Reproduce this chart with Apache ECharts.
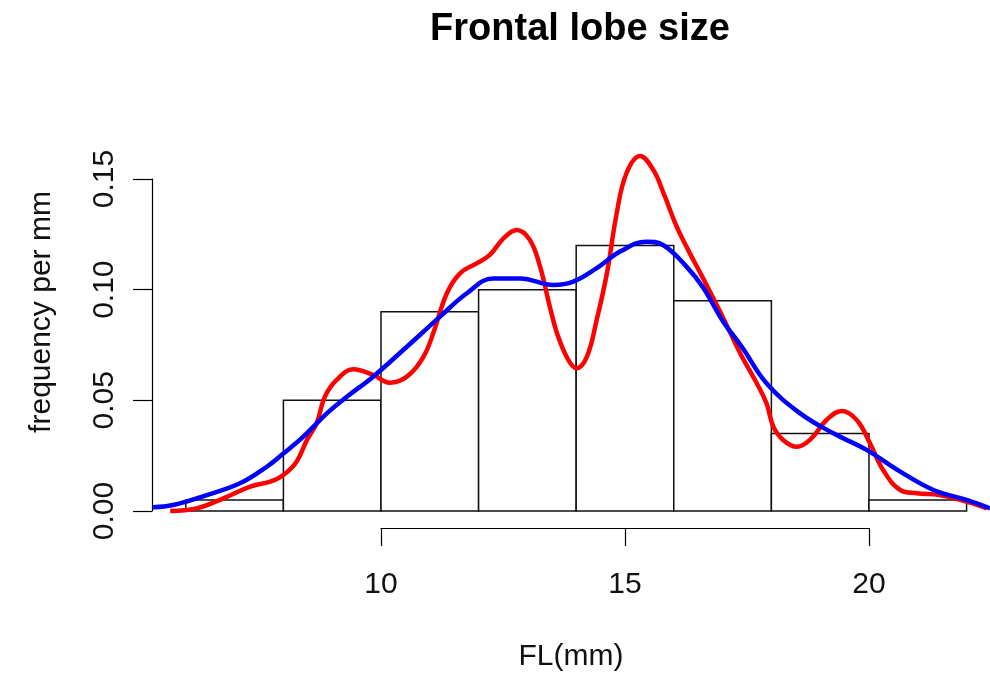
<!DOCTYPE html>
<html>
<head>
<meta charset="utf-8">
<script src="https://cdn.jsdelivr.net/npm/echarts@6/dist/echarts.min.js"></script>
<style>
  html, body { margin: 0; padding: 0; background: #ffffff; }
  #chart { width: 990px; height: 677px; }
</style>
</head>
<body>
<div id="chart"></div>
<script>
// Histogram of frontal lobe size: bin edges (mm) and density per mm
const binEdges = [6, 8, 10, 12, 14, 16, 18, 20, 22];
const binDensity = [0.005, 0.05, 0.09, 0.10, 0.12, 0.095, 0.035, 0.005];

// Kernel density estimate, narrow bandwidth (red)
const redX = [5.68, 6.22, 6.77, 7.32, 7.73, 8.0, 8.27, 8.48, 8.68, 8.85, 9.09, 9.43, 9.84,
  10.18, 10.53, 10.87, 11.07, 11.35, 11.62, 11.96, 12.23, 12.51, 12.78, 13.05, 13.26, 13.46,
  13.63, 13.84, 14.01, 14.22, 14.42, 14.63, 14.83, 15.03, 15.31, 15.58, 15.79, 16.06, 16.33,
  16.58, 17.0, 17.36, 17.7, 17.9, 18.04, 18.24, 18.52, 18.79, 19.13, 19.44, 19.75, 20.02,
  20.29, 20.64, 20.98, 21.45, 22.0, 22.41];
const redY = [0.0, 0.0012, 0.0057, 0.011, 0.0133, 0.0163, 0.0223, 0.032, 0.0396, 0.0516, 0.0592,
  0.064, 0.0615, 0.058, 0.0607, 0.0697, 0.0803, 0.0984, 0.1074, 0.1119, 0.1157, 0.1232, 0.127,
  0.1225, 0.1104, 0.0923, 0.0788, 0.0682, 0.0645, 0.0697, 0.0863, 0.1074, 0.1345, 0.1526,
  0.1604, 0.1541, 0.1436, 0.1285, 0.1164, 0.106, 0.0878, 0.0713, 0.0577, 0.0487, 0.0381,
  0.0321, 0.029, 0.0321, 0.0411, 0.0452, 0.0411, 0.0306, 0.0185, 0.0095, 0.008, 0.0072,
  0.0042, 0.0012];

// Kernel density estimate, wide bandwidth (blue)
const blueX = [5.33, 5.74, 6.43, 7.11, 7.66, 8.0, 8.41, 8.89, 9.3, 9.84, 10.53, 11.21, 11.76,
  12.3, 12.85, 13.53, 13.94, 14.42, 14.9, 15.44, 15.78, 16.26, 16.6, 17.0, 17.4, 17.9, 18.59,
  19.27, 19.95, 20.64, 21.32, 22.0, 22.48];
const blueY = [0.0017, 0.0027, 0.0072, 0.0125, 0.02, 0.026, 0.0336, 0.0441, 0.0516, 0.0607,
  0.0742, 0.0878, 0.0984, 0.1051, 0.1051, 0.1021, 0.1036, 0.1097, 0.1172, 0.1217, 0.1202,
  0.1104, 0.1010, 0.0860, 0.0740, 0.0577, 0.0441, 0.0351, 0.0276, 0.0178, 0.0095, 0.005, 0.0012];

// Axis ticks
const xTicks = [10, 15, 20];
const yTicks = [0, 0.05, 0.10, 0.15];

const FONT = '"Liberation Sans", Arial, Helvetica, sans-serif';
const TEXT_COLOR = '#111111';

const histData = binDensity.map((d, i) => [binEdges[i], binEdges[i + 1], d]);
const redData = redX.map((x, i) => [x, redY[i]]);
const blueData = blueX.map((x, i) => [x, blueY[i]]);

const chart = echarts.init(document.getElementById('chart'), null, { renderer: 'canvas' });

const hiddenAxis = {
  show: false
};

chart.setOption({
  animation: false,
  backgroundColor: '#ffffff',
  title: {
    text: 'Frontal lobe size',
    left: 575,
    textAlign: 'center',
    top: 6,
    textStyle: { fontFamily: FONT, fontSize: 38, fontWeight: 'bold', color: '#000000' }
  },
  grid: [
    // plotting region
    { left: 152, right: 0, top: 113, bottom: 166 },
    // frame for the density axis
    { left: 152, width: 10, top: 179, bottom: 166 },
    // frame for the FL axis
    { left: 381, right: 121, top: 500, bottom: 149 }
  ],
  xAxis: [
    {
      gridIndex: 0, type: 'value', min: 5.3074, max: 22.48,
      name: 'FL(mm)', nameLocation: 'middle', nameGap: 131,
      nameTextStyle: { fontFamily: FONT, fontSize: 30, color: TEXT_COLOR },
      axisLine: { show: false }, axisTick: { show: false }, axisLabel: { show: false },
      splitLine: { show: false }
    },
    Object.assign({ gridIndex: 1, type: 'value' }, hiddenAxis),
    {
      gridIndex: 2, type: 'value', min: xTicks[0], max: xTicks[xTicks.length - 1], interval: 5,
      position: 'bottom',
      axisLine: { show: true, lineStyle: { color: '#000', width: 1.2 } },
      axisTick: { show: true, length: 18, lineStyle: { color: '#000', width: 1.2 } },
      axisLabel: { fontFamily: FONT, fontSize: 30, color: TEXT_COLOR, margin: 42 },
      splitLine: { show: false }
    }
  ],
  yAxis: [
    {
      gridIndex: 0, type: 'value', min: 0, max: 0.15 * 398 / 332,
      name: 'frequency per mm', nameLocation: 'middle', nameRotate: 90, nameGap: 95,
      nameTextStyle: { fontFamily: FONT, fontSize: 30, color: TEXT_COLOR },
      axisLine: { show: false }, axisTick: { show: false }, axisLabel: { show: false },
      splitLine: { show: false }
    },
    {
      gridIndex: 1, type: 'value', min: yTicks[0], max: yTicks[yTicks.length - 1], interval: 0.05,
      position: 'left',
      axisLine: { show: true, lineStyle: { color: '#000', width: 1.2 } },
      axisTick: { show: true, length: 19, lineStyle: { color: '#000', width: 1.2 } },
      axisLabel: {
        fontFamily: FONT, fontSize: 30, color: TEXT_COLOR, rotate: 90, margin: 32,
        formatter: v => v.toFixed(2)
      },
      splitLine: { show: false }
    },
    Object.assign({ gridIndex: 2, type: 'value' }, hiddenAxis)
  ],
  series: [
    {
      name: 'histogram',
      type: 'custom',
      xAxisIndex: 0, yAxisIndex: 0,
      data: histData,
      renderItem: function (params, api) {
        const topLeft = api.coord([api.value(0), api.value(2)]);
        const bottomRight = api.coord([api.value(1), 0]);
        return {
          type: 'rect',
          shape: {
            x: topLeft[0], y: topLeft[1],
            width: bottomRight[0] - topLeft[0],
            height: bottomRight[1] - topLeft[1]
          },
          style: { fill: '#ffffff', stroke: '#111111', lineWidth: 1.5 }
        };
      },
      z: 1
    },
    {
      name: 'density (narrow)',
      type: 'line',
      xAxisIndex: 0, yAxisIndex: 0,
      data: redData,
      smooth: 0.4,
      showSymbol: false,
      clip: false,
      lineStyle: { color: '#ff0000', width: 4.5 },
      z: 3
    },
    {
      name: 'density (wide)',
      type: 'line',
      xAxisIndex: 0, yAxisIndex: 0,
      data: blueData,
      smooth: 0.4,
      showSymbol: false,
      clip: false,
      lineStyle: { color: '#0000ff', width: 4.5 },
      z: 4
    }
  ]
});
</script>
</body>
</html>
